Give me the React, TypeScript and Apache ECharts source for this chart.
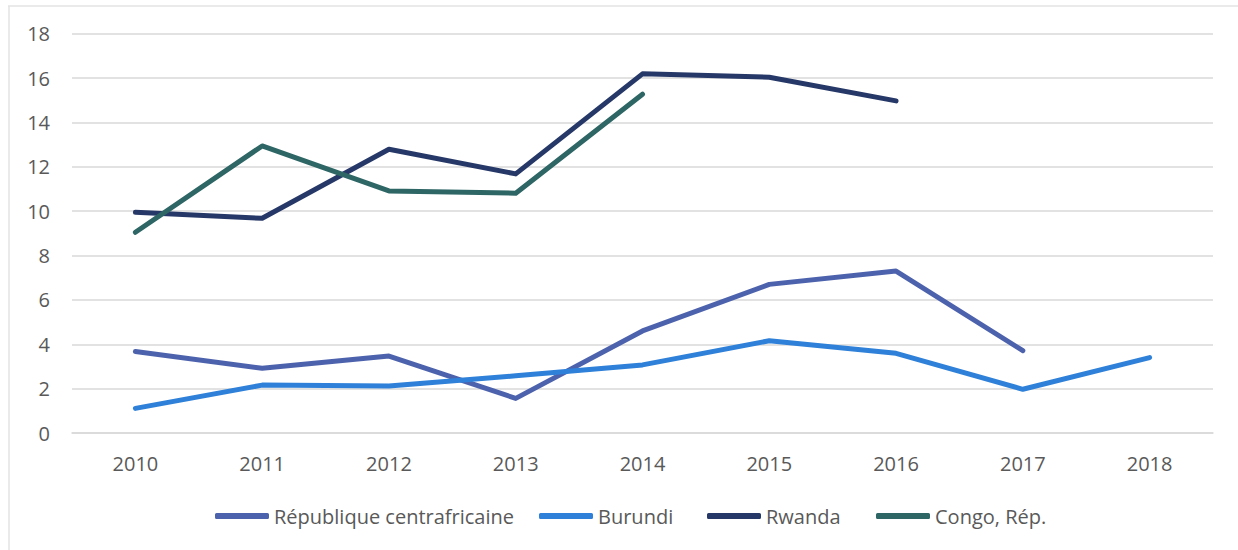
import React, { useEffect, useRef } from "react";
import * as echarts from "echarts";

const years = ["2010", "2011", "2012", "2013", "2014", "2015", "2016", "2017", "2018"];
const car = [3.67, 2.92, 3.47, 1.56, 4.6, 6.7, 7.3, 3.71, null];
const burundi = [1.11, 2.16, 2.12, 2.58, 3.07, 4.16, 3.59, 1.97, 3.4];
const rwanda = [9.95, 9.68, 12.79, 11.68, 16.19, 16.04, 14.97, null, null];
const congo = [9.05, 12.94, 10.91, 10.81, 15.27, null, null, null, null];

const names = ["République centrafricaine", "Burundi", "Rwanda", "Congo, Rép."];
const colors = ["#4d62ad", "#2e80d8", "#263867", "#2d6665"];
const legendLefts = [215, 539, 707, 876];

const FONT = "'Open Sans', sans-serif";

export default function App() {
  const ref = useRef<HTMLDivElement>(null);
  useEffect(() => {
    document.body.style.margin = "0";
    const chart = echarts.init(ref.current!, null, { renderer: "svg" });
    const seriesData = [car, burundi, rwanda, congo];
    chart.setOption({
      animation: false,
      backgroundColor: "#ffffff",
      textStyle: { fontFamily: FONT },
      grid: { left: 72, right: 25, top: 33.7, bottom: 117, containLabel: false },
      xAxis: {
        type: "category",
        data: years,
        boundaryGap: true,
        axisLine: { show: true, lineStyle: { color: "#d9d9d9", width: 1.5 } },
        axisTick: { show: false },
        axisLabel: { color: "#595959", fontSize: 20, lineHeight: 20, margin: 20, fontFamily: FONT },
      },
      yAxis: {
        type: "value",
        min: 0,
        max: 18,
        interval: 2,
        axisLine: { show: false },
        axisTick: { show: false },
        splitLine: { lineStyle: { color: "#d9d9d9", width: 1.5 } },
        axisLabel: { color: "#595959", fontSize: 20, margin: 22, fontFamily: FONT },
      },
      legend: names.map((n, i) => ({
        data: [n],
        left: legendLefts[i],
        top: 506,
        padding: 0,
        icon: "roundRect",
        itemWidth: 54,
        itemHeight: 6,
        textStyle: { color: "#595959", fontSize: 20, lineHeight: 20, fontFamily: FONT },
      })),
      graphic: [
        { type: "line", shape: { x1: 8, y1: 6, x2: 1238, y2: 6 }, style: { stroke: "#e3e3e3", lineWidth: 1.5 } },
        { type: "line", shape: { x1: 9, y1: 6, x2: 9, y2: 550 }, style: { stroke: "#e3e3e3", lineWidth: 1.5 } },
      ],
      series: names.map((n, i) => ({
        name: n,
        type: "line",
        data: seriesData[i],
        symbol: "none",
        color: colors[i],
        lineStyle: { width: 5, color: colors[i], cap: "round", join: "round" },
      })),
    });
    return () => chart.dispose();
  }, []);
  return <div ref={ref} style={{ width: 1238, height: 550 }} />;
}
